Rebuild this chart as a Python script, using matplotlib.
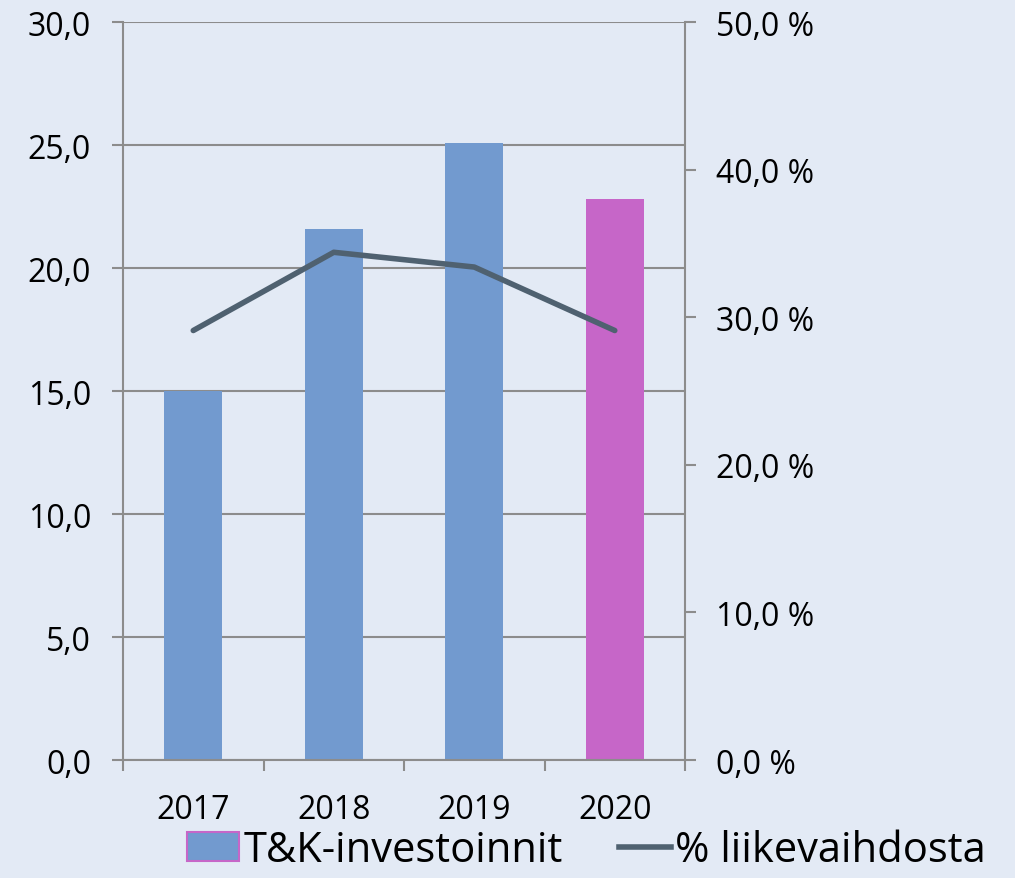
import matplotlib.pyplot as plt
from matplotlib.patches import Patch
from matplotlib.lines import Line2D
from matplotlib.ticker import FixedLocator, NullFormatter

years = ['2017', '2018', '2019', '2020']
investments = [15.0, 21.6, 25.1, 22.8]
share_pct = [29.1, 34.4, 33.4, 29.1]

bg = '#E3EAF5'
blue = '#729ACF'
pink = '#C666C8'
linec = '#4F6170'
grey = '#8C8C8C'

plt.rcParams['font.family'] = ['Open Sans', 'DejaVu Sans']

fig = plt.figure(figsize=(10.15, 8.79), dpi=100, facecolor=bg)
ax = fig.add_axes([0.1212, 0.1342, 0.5537, 0.8396], facecolor=bg)

x = list(range(len(years)))
colors = [blue, blue, blue, pink]
ax.bar(x, investments, width=0.41, color=colors, zorder=2)
ax.set_xlim(-0.5, 3.5)
ax.set_ylim(0, 30)
ax.set_yticks([0, 5, 10, 15, 20, 25, 30])
ax.set_yticklabels([f'{v:.1f}'.replace('.', ',') for v in [0, 5, 10, 15, 20, 25, 30]])
ax.yaxis.grid(True, color=grey, linewidth=1.5, zorder=0)
ax.set_axisbelow(True)

ax.xaxis.set_major_locator(FixedLocator([-0.5, 0.5, 1.5, 2.5, 3.5]))
ax.xaxis.set_major_formatter(NullFormatter())
ax.xaxis.set_minor_locator(FixedLocator(x))
ax.set_xticklabels(years, minor=True)
ax.tick_params(axis='x', which='major', direction='out', length=8, width=1.5, color=grey)
ax.tick_params(axis='x', which='minor', length=0, pad=24, labelsize=23)
ax.tick_params(axis='y', direction='out', length=8, width=1.5, color=grey, labelsize=23, pad=15)

for s in ['left', 'right', 'bottom']:
    ax.spines[s].set_color(grey)
    ax.spines[s].set_linewidth(1.5)
ax.spines['top'].set_visible(False)

ax2 = ax.twinx()
ax2.plot(x, share_pct, color=linec, linewidth=4, solid_capstyle='round', zorder=3)
ax2.set_ylim(0, 50)
ax2.set_yticks([0, 10, 20, 30, 40, 50])
ax2.set_yticklabels([f'{v:.1f} %'.replace('.', ',') for v in [0, 10, 20, 30, 40, 50]])
ax2.tick_params(axis='y', direction='out', length=8, width=1.5, color=grey, labelsize=23, pad=14)
for s in ax2.spines.values():
    s.set_visible(False)

handles = [Patch(facecolor=blue, edgecolor=pink, linewidth=1.5),
           Line2D([0], [0], color=linec, linewidth=4)]
fig.legend(handles, ['T&K-investoinnit', '% liikevaihdosta'], loc='lower center',
           bbox_to_anchor=(0.578, -0.035), ncol=2, frameon=False, fontsize=30,
           handlelength=1.25, handletextpad=0.1, columnspacing=1.35)

fig.savefig('out.png', dpi=100, facecolor=bg)
